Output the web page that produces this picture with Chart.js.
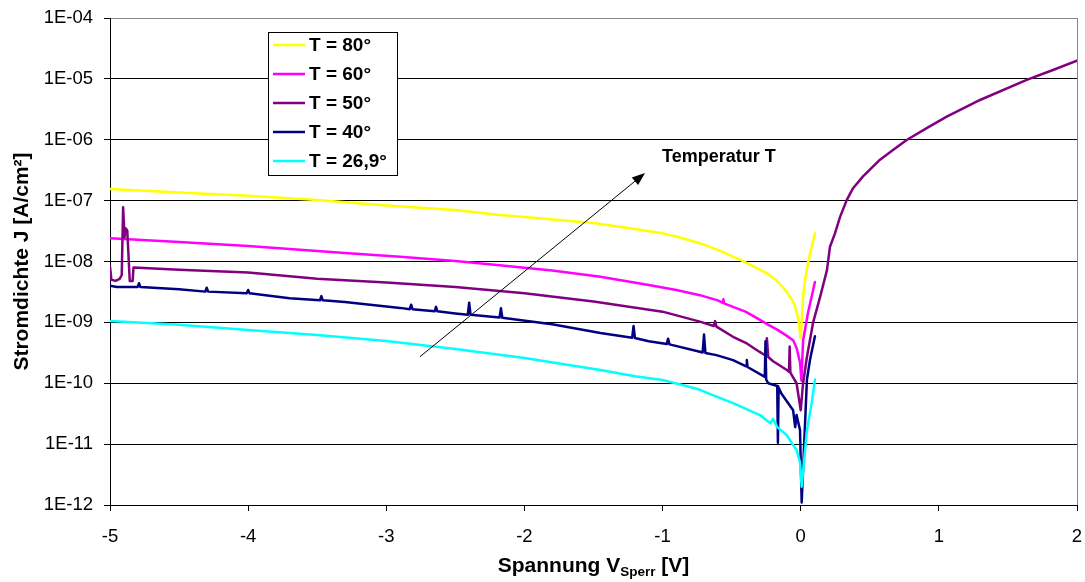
<!DOCTYPE html>
<html>
<head>
<meta charset="utf-8">
<script src="https://cdn.jsdelivr.net/npm/chart.js@4.4.1/dist/chart.umd.min.js"></script>
<style>
  html, body { margin: 0; padding: 0; background: #fff; }
  #chart { display: block; }
</style>
</head>
<body>
<canvas id="chart" width="1085" height="582"></canvas>
<script>
// Spannung V_Sperr [V] and Stromdichte J [A/cm²]
const v80 = [-5.0, -4.5, -4.0, -3.5, -3.0, -2.5, -2.18, -2.0, -1.75, -1.5, -1.25, -1.0, -0.9, -0.73, -0.6, -0.44, -0.35, -0.25, -0.18, -0.13, -0.09, -0.06, -0.04, -0.02, 0.0, 0.017, 0.031, 0.053, 0.074, 0.103]
const j80 = [1.55e-7, 1.36e-7, 1.2e-7, 1.02e-7, 8.3e-8, 7.0e-8, 5.8e-8, 5.4e-8, 4.8e-8, 4.3e-8, 3.55e-8, 2.9e-8, 2.57e-8, 2.0e-8, 1.55e-8, 1.07e-8, 8.5e-9, 6.5e-9, 5.0e-9, 3.8e-9, 2.9e-9, 2.3e-9, 1.8e-9, 1.2e-9, 5.5e-10, 2.6e-9, 5.0e-9, 9.5e-9, 1.55e-8, 2.9e-8]

const v60 = [-5.0, -4.5, -4.0, -3.7, -3.3, -2.9, -2.5, -2.18, -1.8, -1.45, -1.1, -0.9, -0.73, -0.6, -0.565, -0.56, -0.555, -0.49, -0.4, -0.295, -0.23, -0.17, -0.1, -0.055, -0.03, -0.005, 0.005, 0.017, 0.053, 0.103]
const j60 = [2.4e-8, 2.1e-8, 1.8e-8, 1.6e-8, 1.38e-8, 1.2e-8, 1.02e-8, 8.7e-9, 7.1e-9, 5.6e-9, 4.1e-9, 3.4e-9, 2.8e-9, 2.3e-9, 2.1e-9, 2.4e-9, 2.05e-9, 1.8e-9, 1.5e-9, 1.1e-9, 9.0e-10, 7.6e-10, 6.0e-10, 5.1e-10, 3.8e-10, 2.2e-10, 1.1e-10, 5.0e-10, 1.45e-9, 4.6e-9]

const v50 = [-5.0, -4.99, -4.96, -4.93, -4.915, -4.905, -4.895, -4.885, -4.875, -4.857, -4.836, -4.83, -4.5, -4.0, -3.5, -3.0, -2.5, -2.0, -1.5, -1.0, -0.73, -0.63, -0.62, -0.61, -0.49, -0.39, -0.3, -0.255, -0.245, -0.235, -0.2, -0.1, -0.085, -0.08, -0.075, -0.03, 0.0, 0.017, 0.045, 0.089, 0.14, 0.19, 0.212, 0.248, 0.285, 0.333, 0.379, 0.451, 0.574, 0.668, 0.767, 0.912, 1.057, 1.298, 1.636, 1.826, 2.0]
const j50 = [8.3e-9, 5.0e-9, 4.8e-9, 5.2e-9, 6.0e-9, 7.8e-8, 2.5e-8, 3.5e-8, 3.2e-8, 4.8e-9, 4.8e-9, 8.0e-9, 7.3e-9, 6.6e-9, 5.2e-9, 4.5e-9, 3.8e-9, 3.0e-9, 2.2e-9, 1.5e-9, 1.03e-9, 8.7e-10, 1.05e-9, 8.5e-10, 5.8e-10, 4.5e-10, 3.3e-10, 2.85e-10, 5.5e-10, 2.7e-10, 2.3e-10, 1.65e-10, 1.55e-10, 4.0e-10, 1.5e-10, 1.0e-10, 3.6e-11, 1.0e-10, 2.7e-10, 9.8e-10, 2.6e-9, 7.2e-9, 1.75e-8, 2.9e-8, 5.4e-8, 1.02e-7, 1.6e-7, 2.5e-7, 4.7e-7, 6.8e-7, 9.9e-7, 1.55e-6, 2.4e-6, 4.5e-6, 9.6e-6, 1.4e-5, 2.0e-5]

const v40 = [-5.0, -4.95, -4.8, -4.79, -4.78, -4.5, -4.31, -4.3, -4.29, -4.01, -4.0, -3.99, -3.7, -3.48, -3.47, -3.46, -3.3, -2.9, -2.83, -2.82, -2.81, -2.65, -2.64, -2.63, -2.5, -2.41, -2.4, -2.39, -2.18, -2.17, -2.16, -1.8, -1.45, -1.22, -1.21, -1.2, -1.1, -0.97, -0.96, -0.95, -0.73, -0.71, -0.7, -0.69, -0.61, -0.49, -0.395, -0.39, -0.385, -0.26, -0.255, -0.25, -0.235, -0.17, -0.165, -0.16, -0.14, -0.055, -0.04, -0.03, -0.005, 0.007, 0.045, 0.067, 0.103]
const j40 = [4.0e-9, 3.8e-9, 3.8e-9, 4.4e-9, 3.8e-9, 3.5e-9, 3.2e-9, 3.7e-9, 3.2e-9, 3.0e-9, 3.4e-9, 3.0e-9, 2.5e-9, 2.3e-9, 2.7e-9, 2.3e-9, 2.16e-9, 1.73e-9, 1.65e-9, 1.95e-9, 1.65e-9, 1.52e-9, 1.8e-9, 1.52e-9, 1.4e-9, 1.33e-9, 2.1e-9, 1.33e-9, 1.2e-9, 1.7e-9, 1.19e-9, 9.3e-10, 6.7e-10, 5.6e-10, 8.7e-10, 5.55e-10, 4.9e-10, 4.4e-10, 5.4e-10, 4.35e-10, 3.3e-10, 3.2e-10, 6.3e-10, 3.15e-10, 2.9e-10, 2.4e-10, 1.9e-10, 2.4e-10, 1.85e-10, 1.27e-10, 4.9e-10, 1.15e-10, 1.0e-10, 9.0e-11, 1.05e-11, 8.5e-11, 6.8e-11, 3.6e-11, 1.9e-11, 3.0e-11, 1.7e-11, 1.1e-12, 1.15e-10, 2.4e-10, 5.9e-10]

const v27 = [-5.0, -4.5, -4.0, -3.5, -3.0, -2.5, -2.0, -1.45, -1.2, -1.0, -0.85, -0.73, -0.6, -0.49, -0.295, -0.22, -0.2, -0.17, -0.13, -0.1, -0.06, -0.03, -0.005, 0.007, 0.045, 0.08, 0.103]
const j27 = [1.05e-9, 9.1e-10, 7.5e-10, 6.2e-10, 4.95e-10, 3.65e-10, 2.6e-10, 1.65e-10, 1.3e-10, 1.13e-10, 9.3e-11, 7.8e-11, 5.9e-11, 4.7e-11, 3.0e-11, 2.2e-11, 2.6e-11, 1.9e-11, 1.6e-11, 1.4e-11, 1.0e-11, 8.0e-12, 5.0e-12, 2.0e-12, 1.7e-11, 4.8e-11, 1.15e-10]

const seriesLabels = ['T = 80°', 'T = 60°', 'T = 50°', 'T = 40°', 'T = 26,9°']
const seriesColors = ['#FFFF00', '#FF00FF', '#800080', '#000080', '#00FFFF']
const seriesV = [v80, v60, v50, v40, v27]
const seriesJ = [j80, j60, j50, j40, j27]

const xTicks = [-5, -4, -3, -2, -1, 0, 1, 2]
const yExponents = [-12, -11, -10, -9, -8, -7, -6, -5, -4]

// annotation arrow, in data units
const arrowFrom = { x: -2.756, y: 2.73e-10 }
const arrowTo = { x: -1.127, y: 2.84e-7 }
const arrowText = { x: -1.004, y: 5.2e-7, text: 'Temperatur T' }

const FONT = '"Liberation Sans", Arial, sans-serif'

const datasets = seriesLabels.map((label, i) => ({
  label: label,
  data: seriesV[i].map((v, k) => ({ x: v, y: seriesJ[i][k] })),
  borderColor: seriesColors[i],
  backgroundColor: seriesColors[i],
  borderWidth: 2.5,
  borderJoinStyle: 'round',
  borderCapStyle: 'round',
  pointRadius: 0,
  tension: 0,
  fill: false,
  order: seriesLabels.length - i
}))

const decorations = {
  id: 'decorations',
  afterDatasetsDraw (chart) {
    const ctx = chart.ctx
    const area = chart.chartArea
    const xs = chart.scales.x
    const ys = chart.scales.y
    ctx.save()

    // right frame
    ctx.strokeStyle = '#888'
    ctx.lineWidth = 1
    ctx.beginPath()
    ctx.moveTo(Math.round(area.right) + 0.5, area.top)
    ctx.lineTo(Math.round(area.right) + 0.5, area.bottom)
    ctx.stroke()

    // arrow
    const x0 = xs.getPixelForValue(arrowFrom.x)
    const y0 = ys.getPixelForValue(arrowFrom.y)
    const x1 = xs.getPixelForValue(arrowTo.x)
    const y1 = ys.getPixelForValue(arrowTo.y)
    const ang = Math.atan2(y1 - y0, x1 - x0)
    const headLen = 13
    const headW = 5
    const bx = x1 - headLen * Math.cos(ang)
    const by = y1 - headLen * Math.sin(ang)
    ctx.strokeStyle = '#000'
    ctx.lineWidth = 1
    ctx.beginPath()
    ctx.moveTo(x0, y0)
    ctx.lineTo(bx, by)
    ctx.stroke()
    ctx.fillStyle = '#000'
    ctx.beginPath()
    ctx.moveTo(x1, y1)
    ctx.lineTo(bx + headW * Math.sin(ang), by - headW * Math.cos(ang))
    ctx.lineTo(bx - headW * Math.sin(ang), by + headW * Math.cos(ang))
    ctx.closePath()
    ctx.fill()

    ctx.font = 'bold 18px ' + FONT
    ctx.textAlign = 'left'
    ctx.textBaseline = 'middle'
    ctx.fillText(arrowText.text, xs.getPixelForValue(arrowText.x), ys.getPixelForValue(arrowText.y))

    // legend box
    const lx = 268
    const ly = 32
    const lw = 129
    const lh = 143
    ctx.fillStyle = '#fff'
    ctx.fillRect(lx, ly, lw, lh)
    ctx.strokeStyle = '#000'
    ctx.lineWidth = 1
    ctx.strokeRect(lx + 0.5, ly + 0.5, lw, lh)
    ctx.font = 'bold 19px ' + FONT
    chart.data.datasets.forEach((ds, i) => {
      const cy = 45 + i * 29
      ctx.strokeStyle = ds.borderColor
      ctx.lineWidth = 2.5
      ctx.beginPath()
      ctx.moveTo(273, cy)
      ctx.lineTo(305, cy)
      ctx.stroke()
      ctx.fillStyle = '#000'
      ctx.fillText(ds.label, 309, cy + 1)
    })

    // axis titles
    ctx.fillStyle = '#000'
    ctx.textBaseline = 'alphabetic'
    const mainFont = 'bold 21px ' + FONT
    const subFont = 'bold 13.5px ' + FONT
    const parts = [['Spannung V', mainFont, 0], ['Sperr', subFont, 4], [' [V]', mainFont, 0]]
    let total = 0
    parts.forEach(p => { ctx.font = p[1]; total += ctx.measureText(p[0]).width })
    let px = (area.left + area.right) / 2 - total / 2
    parts.forEach(p => {
      ctx.font = p[1]
      ctx.fillText(p[0], px, 572 + p[2])
      px += ctx.measureText(p[0]).width
    })

    ctx.translate(28, (area.top + area.bottom) / 2)
    ctx.rotate(-Math.PI / 2)
    ctx.font = mainFont
    ctx.textAlign = 'center'
    ctx.fillText('Stromdichte J [A/cm²]', 0, 0)
    ctx.restore()
  }
}

new Chart(document.getElementById('chart'), {
  type: 'line',
  data: { datasets: datasets },
  options: {
    responsive: false,
    animation: false,
    devicePixelRatio: 1,
    layout: { padding: { top: 18, right: 8, left: 0, bottom: 0 } },
    plugins: { legend: { display: false }, tooltip: { enabled: false } },
    scales: {
      x: {
        type: 'linear',
        min: -5,
        max: 2,
        afterBuildTicks: s => { s.ticks = xTicks.map(v => ({ value: v })) },
        afterFit: s => {
          s.height = 77
          s.paddingLeft = 0
          s.paddingRight = 0
        },
        ticks: {
          callback: v => String(v),
          color: '#000',
          font: { family: FONT, size: 18.5 },
          padding: 15,
          maxRotation: 0,
          autoSkip: false
        },
        grid: { drawOnChartArea: false, drawTicks: true, tickLength: 6, color: '#000' },
        border: { color: '#000', width: 1 }
      },
      y: {
        type: 'logarithmic',
        min: 1e-12,
        max: 1e-4,
        afterBuildTicks: s => { s.ticks = yExponents.map(e => ({ value: Number('1e' + e) })) },
        afterFit: s => {
          s.width = 110
          s.paddingTop = 0
          s.paddingBottom = 0
        },
        ticks: {
          callback: v => {
            const e = Math.round(Math.log10(v))
            return '1E' + (e < 0 ? '-' : '+') + String(Math.abs(e)).padStart(2, '0')
          },
          color: '#000',
          font: { family: FONT, size: 18.5 },
          padding: 11,
          autoSkip: false
        },
        grid: {
          color: c => (c.tick && Math.round(Math.log10(c.tick.value)) === -4 ? '#888' : '#000'),
          tickColor: '#000',
          tickLength: 6,
          lineWidth: 1
        },
        border: { color: '#000', width: 1 }
      }
    }
  },
  plugins: [decorations]
})
</script>
</body>
</html>
